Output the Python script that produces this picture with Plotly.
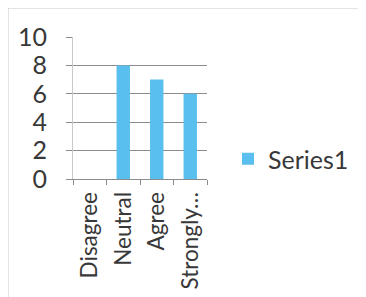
import plotly.graph_objects as go

categories = ["Disagree", "Neutral", "Agree", "Strongly…"]
values = [0, 8, 7, 6]
series_name = "Series1"
y_ticks = [0, 2, 4, 6, 8, 10]

# page body has an 8px margin, so the figure is offset by 8px
OFF = 8
W, H = 366 - OFF, 297 - OFF
L, T = 73 - OFF, 37 - OFF
R = W - (207 - OFF)
B = H - (179 - OFF)
pw, ph = W - L - R, H - T - B

def px_x(x):
    return (x - OFF - L) / pw

def px_y(y):
    return (H - B - (y - OFF)) / ph

font_family = "Lato, 'Open Sans', sans-serif"
text_color = "#383838"
grid_color = "#8c8c8c"

fig = go.Figure()
fig.add_trace(go.Bar(
    x=categories, y=values, name=series_name,
    marker=dict(color="#58BFEE", line=dict(width=0)),
    showlegend=True,
))

fig.update_layout(
    width=W, height=H,
    margin=dict(l=L, r=R, t=T, b=B, autoexpand=False),
    paper_bgcolor="white", plot_bgcolor="white",
    font=dict(family=font_family, color=text_color),
    bargap=0.6,
    showlegend=True,
    legend=dict(
        x=px_x(228), y=px_y(159), xanchor="left", yanchor="middle",
        font=dict(size=25, color=text_color, family=font_family),
        bgcolor="rgba(0,0,0,0)", itemwidth=30,
    ),
    xaxis=dict(
        type="category", tickangle=-90,
        tickfont=dict(size=22.5, color=text_color),
        showline=True, linecolor=grid_color, linewidth=1,
        ticks="outside", tickson="boundaries", ticklen=5, tickcolor=grid_color,
        ticklabelstandoff=3,
        showgrid=False, fixedrange=True,
    ),
    yaxis=dict(
        range=[0, 10], tickvals=y_ticks,
        tickfont=dict(size=25, color=text_color),
        showgrid=True, gridcolor=grid_color, gridwidth=1,
        showline=True, linecolor="#c8c8c8", linewidth=1,
        ticks="outside", ticklen=6, tickcolor=grid_color,
        ticklabelstandoff=14,
        zeroline=False, fixedrange=True,
    ),
    shapes=[dict(
        type="rect", xref="paper", yref="paper",
        x0=px_x(8), x1=px_x(362),
        y0=px_y(320), y1=px_y(8),
        line=dict(color="#c9c9c9", width=1), layer="below",
    )],
)

fig.write_html("out.html")
